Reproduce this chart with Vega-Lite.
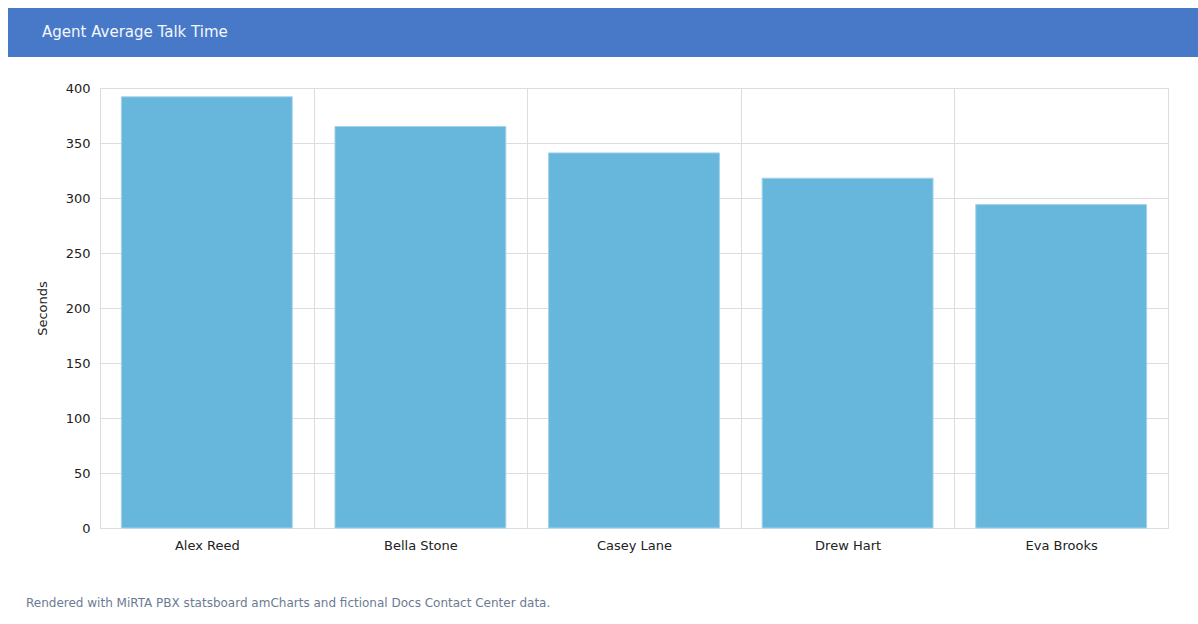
{
  "$schema": "https://vega.github.io/schema/vega-lite/v6.json",
  "padding": {"left": 8, "top": 8, "right": 0, "bottom": 0},
  "background": "white",
  "config": {"font": "DejaVu Sans"},
  "title": {
    "text": "Rendered with MiRTA PBX statsboard amCharts and fictional Docs Contact Center data.",
    "orient": "bottom", "anchor": "start", "frame": "bounds",
    "dx": 18, "offset": 45, "fontSize": 12, "fontWeight": "normal",
    "color": "#6b7b93", "font": "DejaVu Sans"
  },
  "spacing": 24,
  "bounds": "full",
  "vconcat": [
    {
      "width": 1098, "height": 49,
      "view": {"fill": "#4779c8", "stroke": null},
      "data": {"values": [{"title": "Agent Average Talk Time", "row": "header"}]},
      "mark": {"type": "text", "align": "left", "baseline": "middle", "dx": -607, "dy": -1, "fontSize": 15, "color": "#f4f7fc", "font": "DejaVu Sans"},
      "encoding": {
        "text": {"field": "title", "type": "nominal"},
        "y": {"field": "row", "type": "nominal", "axis": {"title": " ", "titleFontSize": 13, "titlePadding": 79, "titleColor": "rgba(255,255,255,0)", "labels": false, "ticks": false, "grid": false, "domain": true, "domainWidth": 184, "domainColor": "#4779c8", "domainCap": "butt", "translate": 0}}
      }
    },
    {
      "width": 1068, "height": 440,
      "view": {"stroke": "#dddddd"},
      "data": {"values": [
        {"agent": "Alex Reed", "seconds": 392},
        {"agent": "Bella Stone", "seconds": 365},
        {"agent": "Casey Lane", "seconds": 341},
        {"agent": "Drew Hart", "seconds": 318},
        {"agent": "Eva Brooks", "seconds": 294}
      ]},
      "mark": {"type": "bar", "color": "#67b6dc", "stroke": "#a3d3ec", "strokeWidth": 1, "width": {"band": 0.8}},
      "encoding": {
        "x": {
          "field": "agent", "type": "nominal", "sort": null,
          "scale": {"paddingInner": 0, "paddingOuter": 0},
          "axis": {"title": null, "labelAngle": 0, "ticks": false, "domain": false, "grid": true, "tickBand": "extent", "gridColor": "#dddddd", "labelFontSize": 13, "labelColor": "#222222", "labelPadding": 11, "labelFont": "DejaVu Sans"}
        },
        "y": {
          "field": "seconds", "type": "quantitative",
          "scale": {"domain": [0, 400]},
          "axis": {"title": "Seconds", "tickCount": 8, "ticks": false, "tickSize": 0, "domain": false, "gridColor": "#dddddd", "labelFontSize": 13, "labelColor": "#222222", "labelPadding": 10, "labelFont": "DejaVu Sans", "titleFontSize": 13, "titleFontWeight": "normal", "titleColor": "#222222", "titlePadding": 16, "titleFont": "DejaVu Sans"}
        }
      }
    }
  ]
}
